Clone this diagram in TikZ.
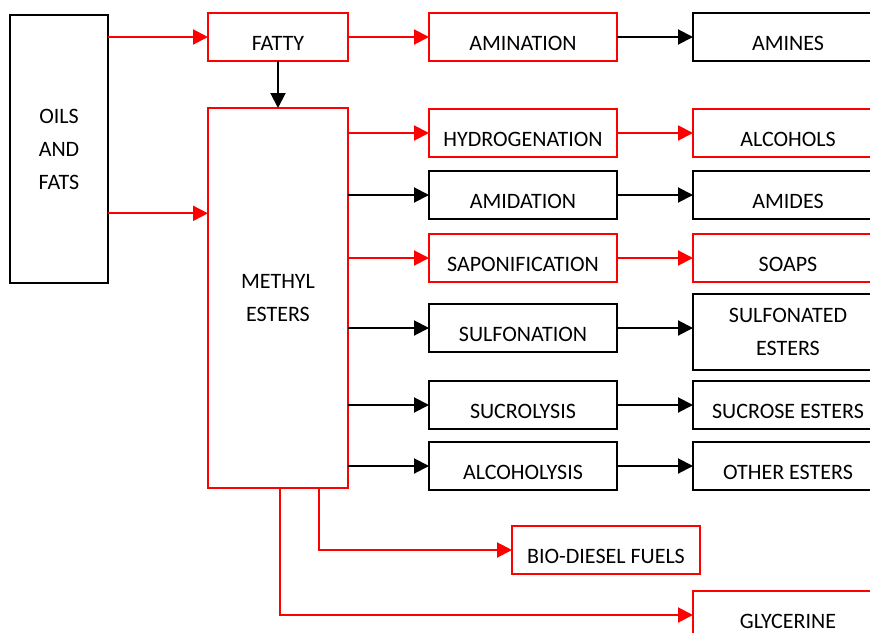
\documentclass[tikz,border=0pt]{standalone}
\usepackage{fontspec}
\setmainfont{Carlito}
\usetikzlibrary{arrows.meta,calc,positioning}
\newcommand{\bh}{48pt}
\newcommand{\bw}{188pt}
\tikzset{
    rblock/.style = {
        draw=red, rectangle, align=center,
        outer sep=0,
        inner sep=0,
        line width=2pt,
        minimum width={\bw},
        minimum height={\bh},
        text height=26pt, text depth=0pt,
        font=\fontsize{22}{33}\selectfont
    },
    kblock/.style = {
        draw=black, rectangle, align=center,
        outer sep=0,
        inner sep=0,
        line width=2.4pt,
        minimum width={\bw},
        minimum height={\bh},
        text height=26pt, text depth=0pt,
        font=\fontsize{22}{33}\selectfont
    },
    rtall/.style = {
        draw=red, rectangle, align=center,
        outer sep=0,
        inner sep=0,
        line width=2pt,
        font=\fontsize{22}{33}\selectfont
    },
    ktall/.style = {
        draw=black, rectangle, align=center,
        outer sep=0,
        inner sep=0,
        line width=2.4pt,
        font=\fontsize{22}{33}\selectfont
    },
    rarrow/.style = {draw=red, line width=2pt, -{Triangle[length=15pt,width=15pt]}},
    karrow/.style = {draw=black, line width=2pt, -{Triangle[length=15pt,width=15pt]}}
}

\begin{document}
\begin{tikzpicture}[x=1pt,y=1pt]
\useasboundingbox (0,0) rectangle (870,-632);

\node[ktall, minimum width=98pt, minimum height=268pt] (OilsFats) at (59,-149) {OILS\\AND\\FATS};
\node[rblock, minimum width=140pt] (Fatty) at (278,-37) {FATTY};
\node[rtall, minimum width=140pt, minimum height=380pt, below=47pt of Fatty] (MethylEsters) {METHYL\\ESTERS};

\node[rblock, right=81pt of Fatty] (Amination) {AMINATION};
\node[kblock, right=76pt of Amination, minimum width=190pt] (Amines) {AMINES};

\node[rblock, below=48pt of Amination] (Hydrogenation) {HYDROGENATION};
\node[kblock, below=14pt of Hydrogenation] (Amidation) {AMIDATION};
\node[rblock, below=15pt of Amidation] (Saponification) {SAPONIFICATION};
\node[kblock, below=22pt of Saponification] (Sulfonation) {SULFONATION};
\node[kblock, below=29pt of Sulfonation] (Sucrolysis) {SUCROLYSIS};
\node[kblock, below=13pt of Sucrolysis] (Alcoholysis) {ALCOHOLYSIS};

\node[rblock, right=76pt of Hydrogenation, minimum width=190pt] (Alcohols) {ALCOHOLS};
\node[kblock, right=76pt of Amidation, minimum width=190pt] (Amides) {AMIDES};
\node[rblock, right=76pt of Saponification, minimum width=190pt] (Soaps) {SOAPS};
\node[ktall, right=76pt of Sulfonation, minimum width=190pt, minimum height=76pt, yshift=-4pt] (SulfonatedEsters) {SULFONATED\\ESTERS};
\node[kblock, right=76pt of Sucrolysis, minimum width=190pt] (SucroseEsters) {SUCROSE ESTERS};
\node[kblock, right=76pt of Alcoholysis, minimum width=190pt] (OtherEsters) {OTHER ESTERS};

\node[rblock, below right=38pt and 164pt of MethylEsters.south east, anchor=north west] (BioDiesel) {BIO-DIESEL FUELS};
\node[rblock, below=101pt of OtherEsters, minimum width=190pt] (Glycerine) {GLYCERINE};

\coordinate (OF2) at ($(OilsFats.south east)!0.26!(OilsFats.north east)$);
\coordinate (ME1) at ($(MethylEsters.south)+(41pt,0)$);
\coordinate (ME2) at ($(MethylEsters.south)+(2pt,0)$);

\draw[rarrow] (OilsFats.east |- Fatty.west) -- (Fatty.west);
\draw[rarrow] (OF2) -- (OF2 -| MethylEsters.west);
\draw[karrow] (Fatty.south) -- (MethylEsters.north);
\draw[rarrow] (Fatty.east) -- (Amination.west);
\draw[karrow] (Amination.east) -- (Amines.west);

\draw[rarrow] (MethylEsters.east |- Hydrogenation.west) -- (Hydrogenation.west);
\draw[karrow] (MethylEsters.east |- Amidation.west) -- (Amidation.west);
\draw[rarrow] (MethylEsters.east |- Saponification.west) -- (Saponification.west);
\draw[karrow] (MethylEsters.east |- Sulfonation.west) -- (Sulfonation.west);
\draw[karrow] (MethylEsters.east |- Sucrolysis.west) -- (Sucrolysis.west);
\draw[karrow] (MethylEsters.east |- Alcoholysis.west) -- (Alcoholysis.west);

\draw[rarrow] (Hydrogenation.east) -- (Hydrogenation.east -| Alcohols.west);
\draw[karrow] (Amidation.east) -- (Amidation.east -| Amides.west);
\draw[rarrow] (Saponification.east) -- (Saponification.east -| Soaps.west);
\draw[karrow] (Sulfonation.east) -- (Sulfonation.east -| SulfonatedEsters.west);
\draw[karrow] (Sucrolysis.east) -- (Sucrolysis.east -| SucroseEsters.west);
\draw[karrow] (Alcoholysis.east) -- (Alcoholysis.east -| OtherEsters.west);

\draw[rarrow] (ME1) |- (BioDiesel.west);
\draw[rarrow] (ME2) |- (Glycerine.west);

\end{tikzpicture}
\end{document}
